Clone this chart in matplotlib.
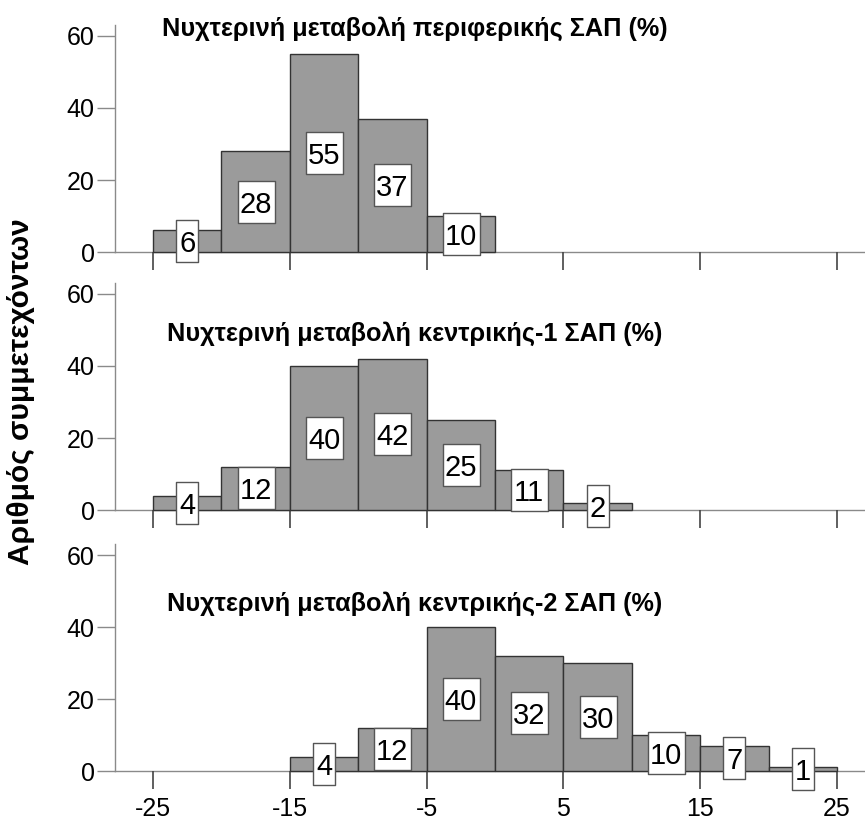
import matplotlib
matplotlib.use("Agg")
import matplotlib.pyplot as plt
from matplotlib.path import Path

plt.rcParams['font.family'] = ['Liberation Sans', 'DejaVu Sans']
plt.rcParams['axes.unicode_minus'] = False

titles = ["Νυχτερινή μεταβολή περιφερικής ΣΑΠ (%)",
          "Νυχτερινή μεταβολή κεντρικής-1 ΣΑΠ (%)",
          "Νυχτερινή μεταβολή κεντρικής-2 ΣΑΠ (%)"]
bin_width = 5
bins_top = [-25, -20, -15, -10, -5]
counts_top = [6, 28, 55, 37, 10]
bins_mid = [-25, -20, -15, -10, -5, 0, 5]
counts_mid = [4, 12, 40, 42, 25, 11, 2]
bins_bot = [-15, -10, -5, 0, 5, 10, 15, 20]
counts_bot = [4, 12, 40, 32, 30, 10, 7, 1]
xticks = [-25, -15, -5, 5, 15, 25]
yticks = [0, 20, 40, 60]
ylabel = "Αριθμός συμμετεχόντων"

W, H = 865, 821
fig = plt.figure(figsize=(W / 100, H / 100), dpi=100)

ppu = 3.6
ymin, ymax = -8, 63
xmin, xmax = -27.78, 27.05
left_px = 115
zeros_px = [252, 510, 771]
title_y = [62.0, 48.9, 46.4]
panels = [(bins_top, counts_top), (bins_mid, counts_mid), (bins_bot, counts_bot)]

spine_col = '#8a8a8a'
tick_col = '#444444'


def box_marker(w_px, h_px):
    hw, hh = w_px / 2, h_px / 2
    return Path([(-hw, -hh), (hw, -hh), (hw, hh), (-hw, hh), (-hw, -hh)],
                [Path.MOVETO, Path.LINETO, Path.LINETO, Path.LINETO, Path.CLOSEPOLY])


box_h = 42
for i, ((bins, counts), z) in enumerate(zip(panels, zeros_px)):
    top_px = z - ymax * ppu
    h_px = (ymax - ymin) * ppu
    ax = fig.add_axes([left_px / W, 1 - (top_px + h_px) / H, (W - left_px) / W, h_px / H])
    ax.set_xlim(xmin, xmax)
    ax.set_ylim(ymin, ymax)
    ax.patch.set_alpha(0)
    for s in ['top', 'right']:
        ax.spines[s].set_visible(False)
    ax.spines['left'].set_bounds(0, ymax)
    ax.spines['left'].set_color(spine_col)
    ax.spines['left'].set_linewidth(1.0)
    ax.spines['bottom'].set_position(('data', 0))
    ax.spines['bottom'].set_color(spine_col)
    ax.spines['bottom'].set_linewidth(1.0)
    ax.spines['bottom'].set_zorder(1)

    ax.bar(bins, counts, width=bin_width, align='edge', color='#9b9b9b',
           edgecolor='#333333', linewidth=1.0, zorder=2)
    for b, c in zip(bins, counts):
        label = str(c)
        w = 37 if len(label) > 1 else 22
        ax.plot([b + bin_width / 2], [c / 2], linestyle='none',
                marker=box_marker(w, box_h), markersize=box_h * 0.72,
                markerfacecolor='white', markeredgecolor='#555555',
                markeredgewidth=1.0, zorder=4, clip_on=False)
        ax.text(b + bin_width / 2, c / 2, label, ha='center', va='center_baseline',
                fontsize=21, zorder=5)

    ax.set_xticks(xticks)
    ax.set_yticks(yticks)
    ax.tick_params(axis='both', direction='out', length=13, width=1.2,
                   color=tick_col, labelsize=18)
    ax.tick_params(axis='y', pad=1.5, color=spine_col, width=1.0)
    ax.tick_params(axis='x', pad=6)
    if i < 2:
        ax.tick_params(axis='x', labelbottom=False)
    ax.text(-5.85, title_y[i], titles[i], ha='center', va='center',
            fontsize=18.2, fontweight='bold', zorder=6)

fig.text(21 / W, 1 - 392 / H, ylabel, rotation=90, ha='center', va='center',
         fontsize=21.5, fontweight='bold')

fig.savefig('out.png', dpi=100)
